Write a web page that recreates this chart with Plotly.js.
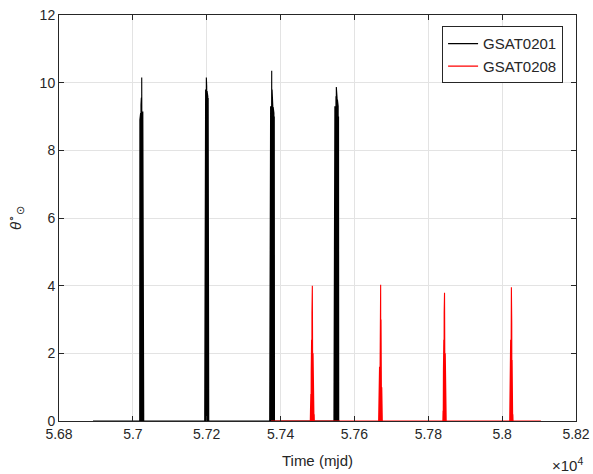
<!DOCTYPE html>
<html>
<head>
<meta charset="utf-8">
<script src="https://cdn.plot.ly/plotly-3.0.1.min.js"></script>
<style>html,body{margin:0;padding:0;background:#fff;}#chart{width:593px;height:474px;}</style>
</head>
<body>
<div id="chart"></div>
<script>
// GSAT0201 (black) : time (mjd) and theta values
const gsat0201Time = [
  56892, 57018.5,
  57019, 57019.5, 57020, 57020.5, 57021, 57021.5, 57022, 57022.5, 57023, 57023.5,
  57024, 57024.5, 57025, 57025.5, 57026, 57026.5, 57027, 57027.5, 57028, 57028.5, 57029, 57029.5,
  57194.5,
  57195, 57195.5, 57196, 57196.5, 57197, 57197.5, 57198, 57198.5, 57199, 57199.5,
  57200, 57200.5, 57201, 57201.5, 57202, 57202.5, 57203, 57203.5, 57204, 57204.5, 57205, 57205.5,
  57370.5,
  57371, 57371.5, 57372, 57372.5, 57373, 57373.5, 57374, 57374.5, 57375, 57375.5, 57376, 57376.5,
  57377, 57377.5, 57378, 57378.5, 57379, 57379.5, 57380, 57380.5, 57381, 57381.5, 57382, 57382.5,
  57383, 57383.5,
  57544.5,
  57545, 57545.5, 57546, 57546.5, 57547, 57547.5, 57548, 57548.5, 57549, 57549.5, 57550, 57550.5,
  57551, 57551.5, 57552, 57552.5, 57553, 57553.5, 57554, 57554.5, 57555, 57555.5, 57556, 57556.5,
  57557, 57557.5, 57560
];
const gsat0201Theta = [
  0, 0,
  8.9, 0, 8.95, 0, 9.1, 0, 9.35, 0, 9.55, 0,
  10.15, 0, 9.6, 0, 9.3, 0, 9.15, 0, 9.1, 0, 9.0, 0,
  0,
  9.55, 0, 9.65, 0, 9.8, 0, 9.85, 0, 10.15, 0,
  9.9, 0, 9.75, 0, 9.65, 0, 9.6, 0, 9.55, 0, 9.5, 0,
  0,
  8.9, 0, 9.2, 0, 9.3, 0, 9.5, 0, 9.85, 0, 10.35, 0,
  9.8, 0, 9.4, 0, 9.3, 0, 9.28, 0, 9.2, 0, 9.1, 0,
  9.0, 0,
  0,
  8.3, 0, 8.9, 0, 9.3, 0, 9.4, 0, 9.5, 0, 9.6, 0,
  9.87, 0, 9.65, 0, 9.55, 0, 9.5, 0, 9.4, 0, 9.3, 0,
  9.0, 0, 0
];

// GSAT0208 (red) : time (mjd) and theta values
const gsat0208Time = [
  57374, 57480.5,
  57481, 57481.5, 57482, 57482.5, 57483, 57483.5, 57484, 57484.5, 57485, 57485.5,
  57486, 57486.5, 57487, 57487.5, 57488, 57488.5, 57489, 57489.5, 57490, 57490.5, 57491, 57491.5,
  57665.5,
  57666, 57666.5, 57667, 57667.5, 57668, 57668.5, 57669, 57669.5, 57670, 57670.5,
  57671, 57671.5, 57672, 57672.5, 57673, 57673.5, 57674, 57674.5, 57675, 57675.5,
  57839.5,
  57840, 57840.5, 57841, 57841.5, 57842, 57842.5, 57843, 57843.5, 57844, 57844.5,
  57845, 57845.5, 57846, 57846.5, 57847, 57847.5, 57848, 57848.5,
  58020.5,
  58021, 58021.5, 58022, 58022.5, 58023, 58023.5, 58024, 58024.5, 58025, 58025.5,
  58026, 58026.5, 58027, 58027.5, 58028, 58028.5, 58029, 58029.5,
  58105
];
const gsat0208Theta = [
  0, 0,
  0.3, 0, 0.8, 0, 1.5, 0, 2.4, 0, 3.2, 0,
  4.0, 0, 3.1, 0, 2.0, 0, 1.4, 0, 0.6, 0, 0.2, 0,
  0,
  0.4, 0, 1.0, 0, 1.6, 0, 2.9, 0, 3.3, 0,
  4.03, 0, 3.0, 0, 1.8, 0, 1.0, 0, 0.3, 0,
  0,
  0.3, 0, 1.5, 0, 2.4, 0, 3.2, 0,
  3.79, 0, 3.1, 0, 2.0, 0, 1.2, 0, 0.4, 0,
  0,
  0.5, 0, 1.4, 0, 2.4, 0, 3.05, 0,
  3.95, 0, 2.9, 0, 1.8, 0, 0.9, 0, 0.2, 0,
  0
];

const xTickVals = [56800, 57000, 57200, 57400, 57600, 57800, 58000, 58200];
const xTickText = ['5.68', '5.7', '5.72', '5.74', '5.76', '5.78', '5.8', '5.82'];
const yTickVals = [0, 2, 4, 6, 8, 10, 12];
const seriesNames = ['GSAT0201', 'GSAT0208'];

const txt = '#262626';
const fontFam = '"Liberation Sans", Arial, Helvetica, sans-serif';

const traces = [
  {x: gsat0201Time, y: gsat0201Theta, name: seriesNames[0], type: 'scatter', mode: 'lines',
   line: {color: '#000000', width: 1.1}},
  {x: gsat0208Time, y: gsat0208Theta, name: seriesNames[1], type: 'scatter', mode: 'lines',
   line: {color: '#ff0000', width: 1.1}}
];

const axisCommon = {
  showline: true, linecolor: txt, linewidth: 1, mirror: 'ticks',
  ticks: 'inside', ticklen: 5, tickcolor: txt, tickwidth: 1,
  showgrid: true, gridcolor: '#e3e3e3', gridwidth: 1, zeroline: false,
  tickfont: {family: fontFam, size: 14, color: txt}
};

const layout = {
  width: 593, height: 474,
  margin: {l: 59, r: 17, t: 15, b: 53},
  paper_bgcolor: '#ffffff', plot_bgcolor: '#ffffff',
  showlegend: true,
  legend: {
    x: 0.975, xanchor: 'right', y: 0.972, yanchor: 'top',
    bgcolor: '#ffffff', bordercolor: txt, borderwidth: 1,
    font: {family: fontFam, size: 15, color: txt},
    tracegroupgap: 0
  },
  xaxis: Object.assign({}, axisCommon, {
    range: [56800, 58200], tickvals: xTickVals, ticktext: xTickText,
    title: {text: 'Time (mjd)', font: {family: fontFam, size: 15, color: txt}, standoff: 14}
  }),
  yaxis: Object.assign({}, axisCommon, {
    range: [0, 12], tickvals: yTickVals,
    title: {text: '<i>θ</i><sup>∘</sup><sub>⊙</sub>', font: {family: fontFam, size: 15, color: txt}, standoff: 14}
  }),
  annotations: [{
    xref: 'paper', yref: 'paper', x: 1.017, y: -0.108, xanchor: 'right', yanchor: 'middle',
    text: '×10<sup>4</sup>', showarrow: false,
    font: {family: fontFam, size: 15, color: txt}
  }]
};

Plotly.newPlot('chart', traces, layout, {displayModeBar: false, staticPlot: true});
</script>
</body>
</html>
